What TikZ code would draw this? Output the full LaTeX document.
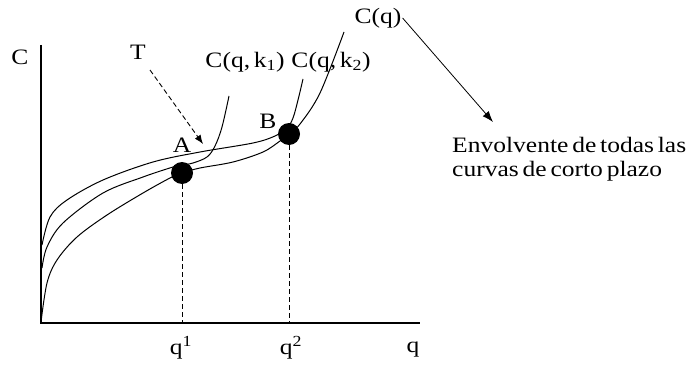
\documentclass[tikz,border=0pt]{standalone}
\usepackage{fontspec}
\setmainfont{Liberation Serif}
\newfontfamily\etiqfont[FakeStretch=1.16, WordSpace=0.6]{Liberation Serif}
\usetikzlibrary{arrows.meta,positioning}

\begin{document}
\begin{tikzpicture}[x=1pt,y=-1pt,
    axisline/.style={line width=1.8pt},
    curva/.style={line width=1pt},
    guia/.style={line width=0.9pt, dash pattern=on 5pt off 3pt},
    punto/.style={circle, fill=black, inner sep=0, minimum size=22pt},
    etiq/.style={inner sep=1pt, font=\etiqfont\fontsize{22}{24}\selectfont},
  ]
  \useasboundingbox (0,0) rectangle (695,369);

  % --- axes ---
  \coordinate (origin) at (41,323);
  \coordinate (ytop) at (41,45);
  \coordinate (xend) at (420,323);
  \draw[axisline] (ytop) -- (origin) -- (xend);
  \node[etiq] (lblC) at (20,57) {C};
  \node[etiq] (lblq) at (413,350) {q};

  % --- envelope C(q) ---
  \draw[curva] plot[smooth, tension=0.55] coordinates {
    (41,322) (47,283) (57,260) (77,237) (107,215) (143,193) (170,178)
    (182,173) (200,168) (233,162) (263,152) (280,141) (289,134)
    (300,124) (320,93) (344,32)};

  % --- short-run curve C(q,k1) ---
  \draw[curva] plot[smooth, tension=0.55] coordinates {
    (42,268) (47,247) (63,223) (103,193) (143,177) (173,167) (182,165)
    (193,163) (207,157) (215,146) (222,127) (229,96)};

  % --- short-run curve C(q,k2) ---
  \draw[curva] plot[smooth, tension=0.55] coordinates {
    (42,245) (50,217) (67,200) (103,180) (153,162) (200,152)
    (253,143) (275,136) (287,128) (293,118) (298,100) (303,79)};

  % --- tangency points ---
  \node[punto] (pA) at (182,173) {};
  \node[punto] (pB) at (289,134) {};
  \node[etiq] (lblA) at (182,145) {A};
  \node[etiq] (lblB) at (268,121) {B};
  \draw[guia] (pA) -- (pA |- origin);
  \draw[guia] (pB) -- (pB |- origin);
  \node[etiq] (q1) at (181,348) {q\textsuperscript{1}};
  \node[etiq] (q2) at (291,348) {q\textsuperscript{2}};

  % --- labels of the curves ---
  \node[etiq] (lblk1) at (245,62) {C(q,\,k\textsubscript{1})};
  \node[etiq] (lblk2) at (331,62) {C(q,\,k\textsubscript{2})};
  \node[etiq] (lblCq) at (378,18) {C(q)};
  \node[etiq] (lblT) at (138,52) {T};

  % --- pointers ---
  \coordinate (tipT) at (203,144);
  \draw[guia, -{Latex[length=9pt,width=7pt]}] (150,70) -- (tipT);
  \coordinate (tipEnv) at (493,122);
  \draw[line width=0.8pt, -{Latex[length=11pt,width=8pt]}] (lblCq.east) -- (tipEnv);
  \node[etiq, anchor=north west, align=left] (lblEnv) at (451,136)
    {Envolvente de todas las\\curvas de corto plazo};
\end{tikzpicture}
\end{document}
